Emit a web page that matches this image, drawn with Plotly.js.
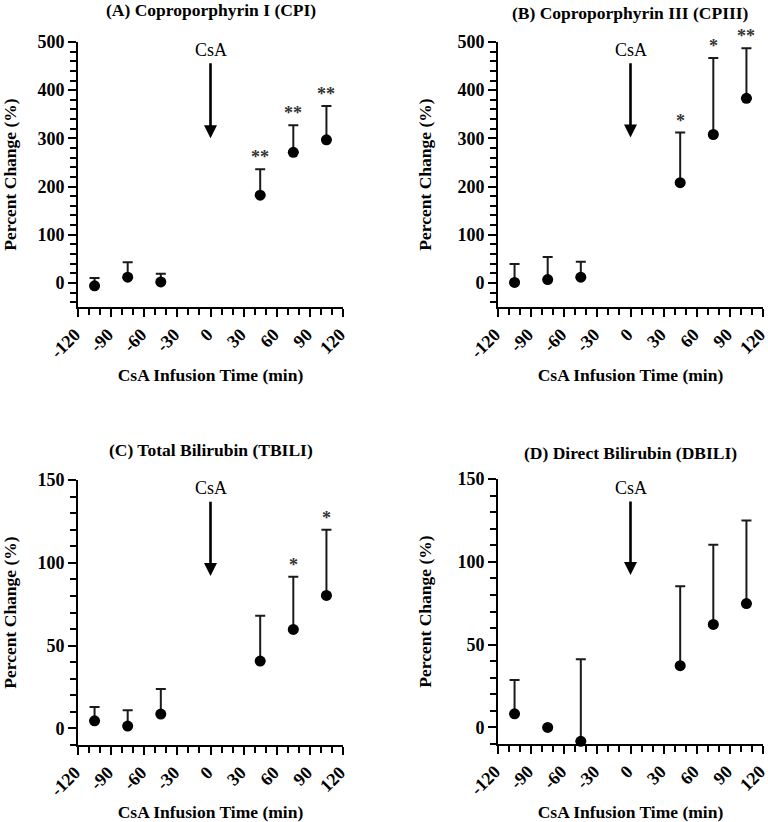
<!DOCTYPE html>
<html>
<head>
<meta charset="utf-8">
<script src="https://cdn.plot.ly/plotly-3.0.1.min.js"></script>
<style>html,body{margin:0;padding:0;background:#fff;}#chart{width:768px;height:822px;}</style>
</head>
<body>
<div id="chart"></div>
<script>
// ---- data ----
var times = [-105, -75, -45, 45, 75, 105];

var cpiMean = [-6, 12, 2, 182, 271, 297];
var cpiSD   = [16, 31, 17, 54, 56, 70];
var cpiSig  = ['', '', '', '**', '**', '**'];

var cpiiiMean = [1, 7, 12, 208, 308, 383];
var cpiiiSD   = [38, 47, 32, 104, 159, 104];
var cpiiiSig  = ['', '', '', '*', '*', '**'];

var tbiliMean = [4.6, 1.4, 8.7, 40.7, 59.8, 80.3];
var tbiliSD   = [8.4, 9.6, 15.1, 27.3, 31.8, 39.7];
var tbiliSig  = ['', '', '', '', '*', '*'];

var dbiliMean = [8.2, 0, -8.4, 37.3, 62.2, 74.8];
var dbiliSD   = [20.5, 0, 49.5, 47.9, 48.1, 50.2];
var dbiliSig  = ['', '', '', '', '', ''];

var panelTitles = ['(A) Coproporphyrin I (CPI)', '(B) Coproporphyrin III (CPIII)',
                   '(C) Total Bilirubin (TBILI)', '(D) Direct Bilirubin (DBILI)'];
var xTickVals = [-120, -90, -60, -30, 0, 30, 60, 90, 120];
var xTickText = ['-120', '-90', '-60', '-30', '0', '30', '60', '90', '120'];
var csaTime = 0;

// ---- layout helpers ----
var W = 768, H = 822;
var SERIF = '"Liberation Serif", "Times New Roman", serif';
var panels = [
  {mean: cpiMean, sd: cpiSD, sig: cpiSig, x0: 78, x1: 343, y0: 42, y1: 307, yr: [-50, 500], dt: 100, mdt: 20, csa: [300, 484], tY: 10},
  {mean: cpiiiMean, sd: cpiiiSD, sig: cpiiiSig, x0: 498, x1: 763, y0: 42, y1: 307, yr: [-50, 500], dt: 100, mdt: 20, csa: [302, 484], tY: 13},
  {mean: tbiliMean, sd: tbiliSD, sig: tbiliSig, x0: 78, x1: 343, y0: 480, y1: 745, yr: [-10, 150], dt: 50, mdt: 10, csa: [92, 145], tY: 450},
  {mean: dbiliMean, sd: dbiliSD, sig: dbiliSig, x0: 498, x1: 763, y0: 479, y1: 744, yr: [-10, 150], dt: 50, mdt: 10, csa: [92, 144.5], tY: 453}
];

var data = [];
var layout = {
  width: W, height: H,
  margin: {l: 0, r: 0, t: 0, b: 0},
  paper_bgcolor: '#ffffff', plot_bgcolor: '#ffffff',
  showlegend: false,
  font: {family: SERIF, color: '#000'},
  annotations: []
};

panels.forEach(function (p, i) {
  var n = i === 0 ? '' : String(i + 1);
  var xa = 'x' + n, ya = 'y' + n;
  var plus = p.sd.slice();
  var minus = p.sd.map(function () { return 0; });
  data.push({
    type: 'scatter', mode: 'markers',
    x: times, y: p.mean,
    xaxis: xa, yaxis: ya,
    cliponaxis: false,
    marker: {color: '#000', size: 11},
    error_y: {type: 'data', symmetric: false, array: plus, arrayminus: minus,
              visible: true, color: '#1a1a1a', thickness: 2, width: 5}
  });
  var tickFont = {family: SERIF, size: 18, color: '#000', weight: 'bold'};
  var titleFont = {family: SERIF, size: 17.5, color: '#000', weight: 'bold'};
  layout['xaxis' + n] = {
    domain: [p.x0 / W, p.x1 / W], anchor: ya,
    range: [-120, 120], tickmode: 'array', tickvals: xTickVals, ticktext: xTickText, tickangle: -45,
    ticklabelshift: -3, ticklabeloverflow: 'allow',
    showgrid: false, zeroline: false, showline: true, linecolor: '#000', linewidth: 2,
    ticks: 'outside', ticklen: 8, tickwidth: 2, tickcolor: '#000',
    minor: {ticks: 'outside', dtick: 10, ticklen: 6, tickwidth: 2, tickcolor: '#000'},
    tickfont: tickFont, fixedrange: true,
    title: {text: 'CsA Infusion Time (min)', font: titleFont, standoff: 8}
  };
  layout['yaxis' + n] = {
    domain: [1 - p.y1 / H, 1 - p.y0 / H], anchor: xa,
    range: p.yr, dtick: p.dt, tick0: 0,
    ticklabeloverflow: 'allow',
    showgrid: false, zeroline: false, showline: true, linecolor: '#000', linewidth: 2,
    ticks: 'outside', ticklen: 8, tickwidth: 2, tickcolor: '#000',
    minor: {ticks: 'outside', dtick: p.mdt, ticklen: 6, tickwidth: 2, tickcolor: '#000'},
    tickfont: tickFont, fixedrange: true,
    title: {text: 'Percent Change (%)', font: titleFont, standoff: 21}
  };
  layout.annotations.push({
    xref: 'paper', yref: 'paper', x: (p.x0 + p.x1) / 2 / W, y: 1 - p.tY / H,
    xanchor: 'center', yanchor: 'middle', showarrow: false,
    text: panelTitles[i], font: {family: SERIF, size: 17.5, color: '#000', weight: 'bold'}
  });
  layout.annotations.push({
    xref: xa, yref: ya, x: csaTime, y: p.csa[0],
    axref: xa, ayref: ya, ax: csaTime, ay: p.csa[1],
    text: 'CsA', showarrow: true, arrowhead: 2, arrowsize: 1, arrowwidth: 2.6,
    arrowcolor: '#000', startstandoff: 2,
    font: {family: SERIF, size: 18, color: '#000'}
  });
  p.sig.forEach(function (s, k) {
    if (!s) return;
    layout.annotations.push({
      xref: xa, yref: ya, x: times[k], y: p.mean[k] + p.sd[k],
      xanchor: 'center', yanchor: 'bottom', showarrow: false,
      text: s, font: {family: SERIF, size: 18, color: '#333', weight: 'bold'}
    });
  });
});

Plotly.newPlot('chart', data, layout, {displayModeBar: false, staticPlot: true});
</script>
</body>
</html>
